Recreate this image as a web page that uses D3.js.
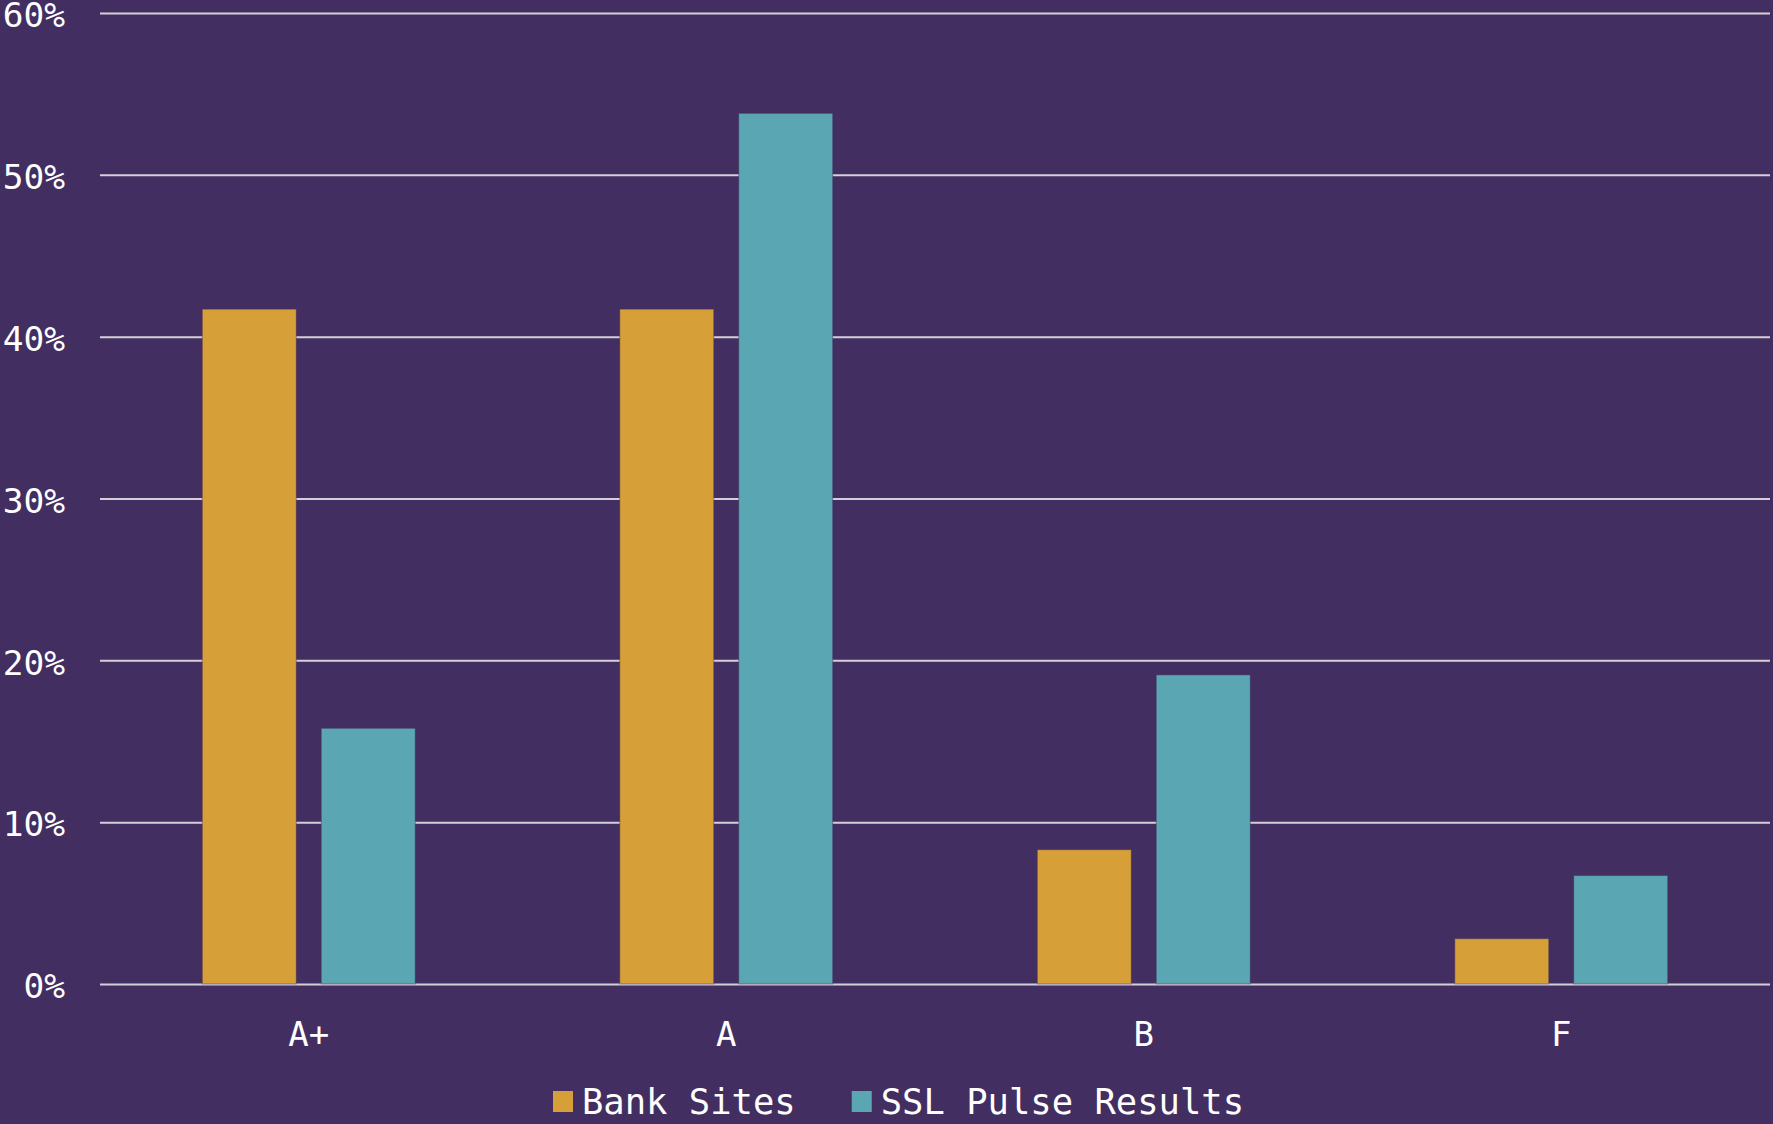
<!DOCTYPE html>
<html>
<head>
<meta charset="utf-8">
<script src="https://cdn.jsdelivr.net/npm/d3@7"></script>
<style>
  html, body { margin: 0; padding: 0; background: #422e60; }
  svg { display: block; }
  text { font-family: "DejaVu Sans Mono", "Liberation Mono", monospace; fill: #fff; }
</style>
</head>
<body>
<div id="viz"></div>
<script>
// data
const grades = ["A+", "A", "B", "F"]
const seriesNames = ["Bank Sites", "SSL Pulse Results"]
const bankSites = [0.417, 0.417, 0.083, 0.028]
const sslPulse = [0.158, 0.538, 0.191, 0.067]
const yTicks = [0, 0.1, 0.2, 0.3, 0.4, 0.5, 0.6]
const colors = ["#d69f38", "#5aa7b3"]

const width = 1773, height = 1124
const margin = { top: 13, right: 3, bottom: 140, left: 100 }

const rows = grades.map((g, i) => ({ grade: g, values: [bankSites[i], sslPulse[i]] }))

const svg = d3.select("#viz").append("svg")
    .attr("width", width)
    .attr("height", height)

svg.append("rect").attr("width", width).attr("height", height).attr("fill", "#422e60")

const x0 = d3.scaleBand()
    .domain(grades)
    .range([margin.left, width - margin.right])

const x1 = d3.scaleBand()
    .domain(seriesNames)
    .range([0, x0.bandwidth()])
    .paddingInner(0.21)
    .paddingOuter(0.86)

const y = d3.scaleLinear()
    .domain([0, 0.6])
    .range([height - margin.bottom, margin.top])

const color = d3.scaleOrdinal().domain(seriesNames).range(colors)

// grid + y labels
const yAxis = svg.append("g")
    .attr("transform", `translate(${margin.left},0)`)
    .call(d3.axisLeft(y)
        .tickValues(yTicks)
        .tickSize(-(width - margin.left - margin.right))
        .tickPadding(35)
        .tickFormat(d3.format(".0%")))
yAxis.select(".domain").remove()
yAxis.selectAll(".tick line").attr("stroke", "#d4d0da").attr("stroke-width", 2)
yAxis.selectAll(".tick text").attr("font-size", 34.5).attr("fill", "#fff").attr("dy", "0.4em")

// bars
const groups = svg.append("g")
    .selectAll("g")
    .data(rows)
    .join("g")
    .attr("transform", d => `translate(${x0(d.grade)},0)`)

groups.selectAll("rect")
    .data(d => d.values.map((v, i) => ({ key: seriesNames[i], value: v })))
    .join("rect")
    .attr("x", d => x1(d.key))
    .attr("y", d => y(d.value))
    .attr("width", x1.bandwidth())
    .attr("height", d => y(0) - y(d.value))
    .attr("fill", d => color(d.key))
    .attr("stroke", "rgba(66,46,96,0.45)")
    .attr("stroke-width", 1)

// x labels
const xAxis = svg.append("g")
    .attr("transform", `translate(0,${height - margin.bottom})`)
    .call(d3.axisBottom(x0).tickSize(0).tickPadding(38))
xAxis.select(".domain").remove()
xAxis.selectAll(".tick text").attr("font-size", 34).attr("fill", "#fff")

// legend
const legend = svg.append("g").attr("transform", "translate(553,1091)")
let lx = 0
seriesNames.forEach((name, i) => {
    const item = legend.append("g").attr("transform", `translate(${lx},0)`)
    item.append("rect")
        .attr("width", 20)
        .attr("height", 21)
        .attr("fill", color(name))
    const t = item.append("text")
        .attr("x", 29)
        .attr("y", 23)
        .attr("font-size", 35.5)
        .text(name)
    lx += 29 + t.node().getComputedTextLength() + 56
})
</script>
</body>
</html>
